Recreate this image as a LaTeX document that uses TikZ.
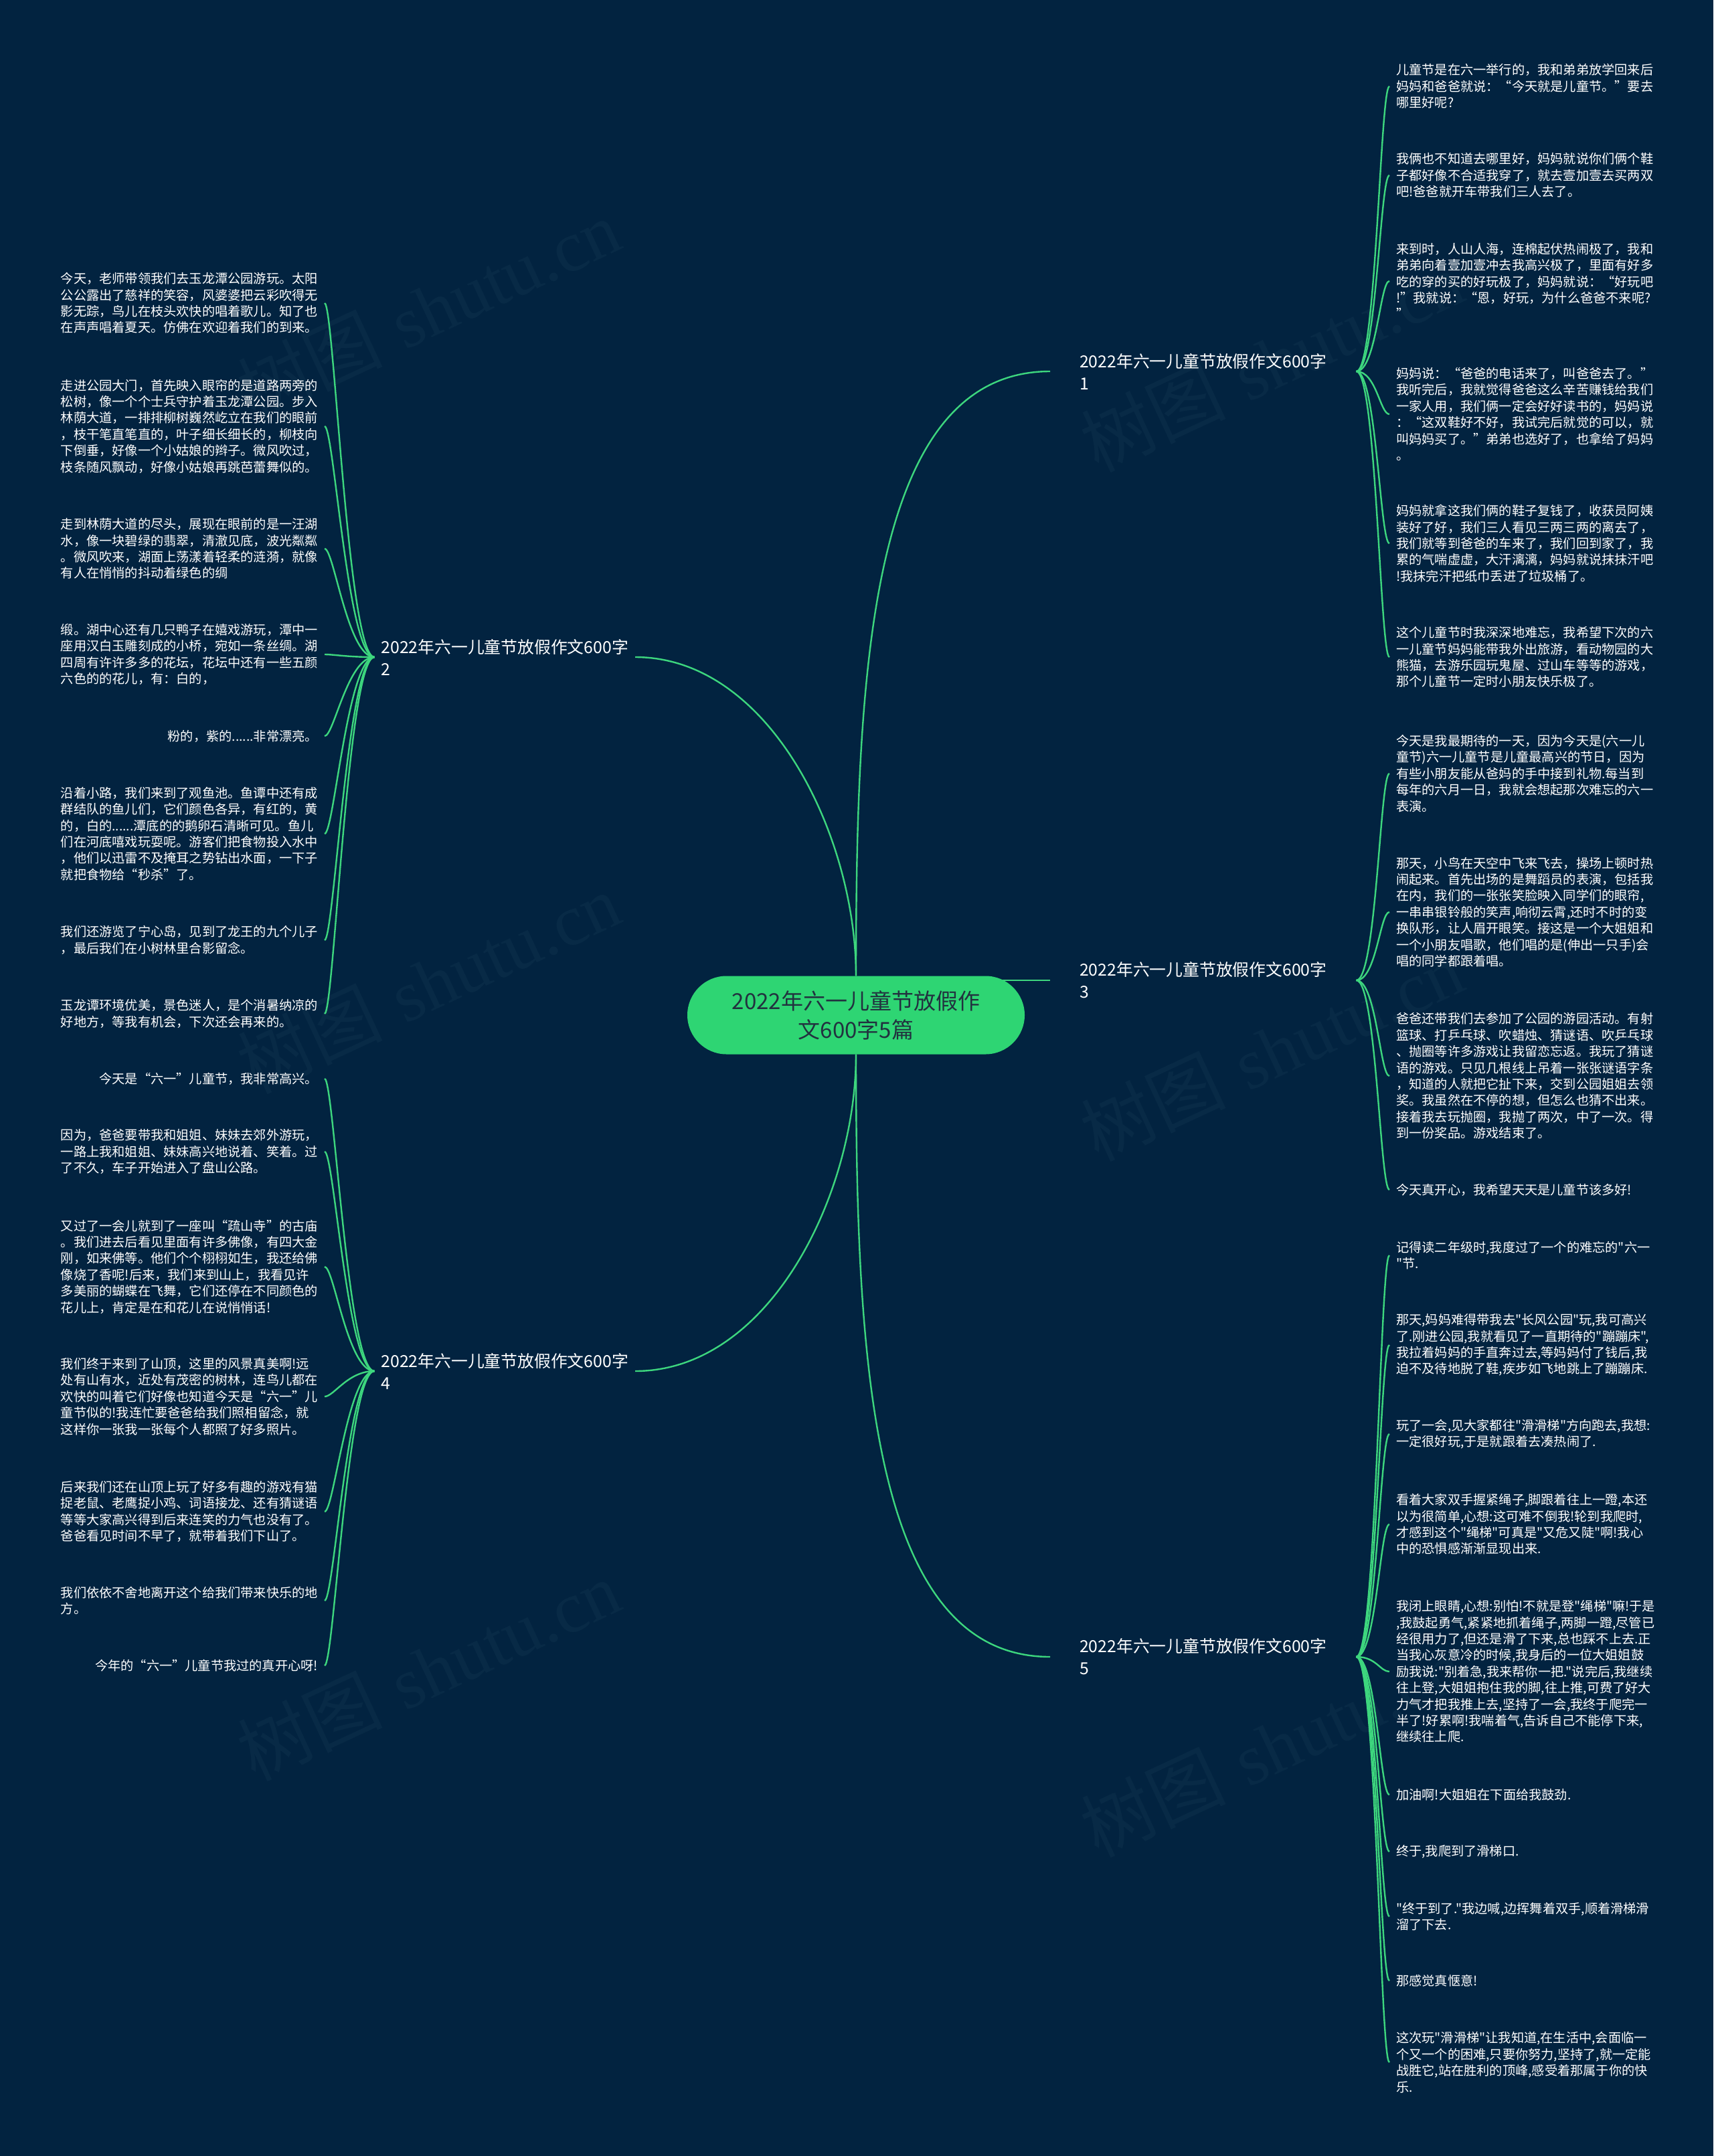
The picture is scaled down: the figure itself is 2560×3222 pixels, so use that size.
\documentclass[tikz,border=0pt]{standalone}
\usepackage{fontspec}
\newfontfamily\cjk[Ligatures=TeXOff]{Noto Sans CJK SC}
\newfontfamily\wmserif{Liberation Serif}
\usetikzlibrary{shapes.misc}
\definecolor{bgc}{HTML}{022340}
\definecolor{lnc}{HTML}{3DD67E}
\definecolor{rootc}{HTML}{2ED573}
\definecolor{roottxt}{HTML}{22313F}
\definecolor{wmc}{HTML}{082A46}
\pgfdeclarelayer{bglayer}
\pgfdeclarelayer{edgelayer}
\pgfsetlayers{bglayer,edgelayer,main}
\begin{document}
\begin{tikzpicture}[x=1pt,y=-1pt,
  leaf/.style={font=\fontsize{19.2}{24.4}\selectfont\cjk, text=white, align=left, inner xsep=10pt, inner ysep=0pt},
  leafR/.style={leaf, anchor=west},
  leafL/.style={leaf, anchor=east},
  branch/.style={font=\fontsize{24.8}{33}\selectfont\cjk, text=white, align=left, inner ysep=2pt},
  branchR/.style={branch, anchor=west, inner xsep=44pt},
  branchL/.style={branch, anchor=east, inner xsep=10pt},
  rootnode/.style={rounded rectangle, fill=rootc, text=roottxt, minimum width=504pt, minimum height=117pt, font=\fontsize{33}{43}\selectfont\cjk, align=center, inner sep=0pt},
  link/.style={draw=lnc, line width=2.4pt},
  wm/.style={text=wmc, rotate=25, font=\fontsize{108}{108}\selectfont}
]
\useasboundingbox (0,0) rectangle (2560,3222);
\begin{pgfonlayer}{bglayer}
\fill[bgc] (0,0) rectangle (2560,3222);
\node[wm] (w1) at (640,462) {{\cjk 树图} {\wmserif shutu.cn}};
\node[wm] (w2) at (640,1469) {{\cjk 树图} {\wmserif shutu.cn}};
\node[wm] (w3) at (640,2496) {{\cjk 树图} {\wmserif shutu.cn}};
\node[wm] (w4) at (1900,540) {{\cjk 树图} {\wmserif shutu.cn}};
\node[wm] (w5) at (1900,1570) {{\cjk 树图} {\wmserif shutu.cn}};
\node[wm] (w6) at (1900,2610) {{\cjk 树图} {\wmserif shutu.cn}};
\end{pgfonlayer}

% root
\node[rootnode] (root) at (1279,1517) {2022年六一儿童节放假作\\文600字5篇};

% branches
\node[branchR] (b1) at (1569,555) {2022年六一儿童节放假作文600字\\1};
\node[branchL] (b2) at (949,982) {2022年六一儿童节放假作文600字\\2};
\node[branchR] (b3) at (1569,1465) {2022年六一儿童节放假作文600字\\3};
\node[branchL] (b4) at (949,2049) {2022年六一儿童节放假作文600字\\4};
\node[branchR] (b5) at (1569,2476) {2022年六一儿童节放假作文600字\\5};

% branch 1 leaves
\node[leafR] (c1a) at (2076,129) {儿童节是在六一举行的，我和弟弟放学回来后\\妈妈和爸爸就说：“今天就是儿童节。”要去\\哪里好呢?};
\node[leafR] (c1b) at (2076,262) {我俩也不知道去哪里好，妈妈就说你们俩个鞋\\子都好像不合适我穿了，就去壹加壹去买两双\\吧!爸爸就开车带我们三人去了。};
\node[leafR] (c1c) at (2076,420) {来到时，人山人海，连棉起伏热闹极了，我和\\弟弟向着壹加壹冲去我高兴极了，里面有好多\\吃的穿的买的好玩极了，妈妈就说：“好玩吧\\!”我就说：“恩，好玩，为什么爸爸不来呢?\\”};
\node[leafR] (c1d) at (2076,619) {妈妈说：“爸爸的电话来了，叫爸爸去了。”\\我听完后，我就觉得爸爸这么辛苦赚钱给我们\\一家人用，我们俩一定会好好读书的，妈妈说\\：“这双鞋好不好，我试完后就觉的可以，就\\叫妈妈买了。”弟弟也选好了，也拿给了妈妈\\。};
\node[leafR] (c1e) at (2076,812) {妈妈就拿这我们俩的鞋子复钱了，收获员阿姨\\装好了好，我们三人看见三两三两的离去了，\\我们就等到爸爸的车来了，我们回到家了，我\\累的气喘虚虚，大汗漓漓，妈妈就说抹抹汗吧\\!我抹完汗把纸巾丢进了垃圾桶了。};
\node[leafR] (c1f) at (2076,982) {这个儿童节时我深深地难忘，我希望下次的六\\一儿童节妈妈能带我外出旅游，看动物园的大\\熊猫，去游乐园玩鬼屋、过山车等等的游戏，\\那个儿童节一定时小朋友快乐极了。};

% branch 3 leaves
\node[leafR] (c3a) at (2076,1156) {今天是我最期待的一天，因为今天是(六一儿\\童节)六一儿童节是儿童最高兴的节日，因为\\有些小朋友能从爸妈的手中接到礼物.每当到\\每年的六月一日，我就会想起那次难忘的六一\\表演。};
\node[leafR] (c3b) at (2076,1363) {那天，小鸟在天空中飞来飞去，操场上顿时热\\闹起来。首先出场的是舞蹈员的表演，包括我\\在内，我们的一张张笑脸映入同学们的眼帘,\\一串串银铃般的笑声,响彻云霄,还时不时的变\\换队形，让人眉开眼笑。接这是一个大姐姐和\\一个小朋友唱歌，他们唱的是(伸出一只手)会\\唱的同学都跟着唱。};
\node[leafR] (c3c) at (2076,1608) {爸爸还带我们去参加了公园的游园活动。有射\\篮球、打乒乓球、吹蜡烛、猜谜语、吹乒乓球\\、抛圈等许多游戏让我留恋忘返。我玩了猜谜\\语的游戏。只见几根线上吊着一张张谜语字条\\，知道的人就把它扯下来，交到公园姐姐去领\\奖。我虽然在不停的想，但怎么也猜不出来。\\接着我去玩抛圈，我抛了两次，中了一次。得\\到一份奖品。游戏结束了。};
\node[leafR] (c3d) at (2076,1778) {今天真开心，我希望天天是儿童节该多好!};

% branch 5 leaves
\node[leafR] (c5a) at (2076,1876) {记得读二年级时,我度过了一个的难忘的"六一\\"节.};
\node[leafR] (c5b) at (2076,2010) {那天,妈妈难得带我去"长风公园"玩,我可高兴\\了.刚进公园,我就看见了一直期待的"蹦蹦床",\\我拉着妈妈的手直奔过去,等妈妈付了钱后,我\\迫不及待地脱了鞋,疾步如飞地跳上了蹦蹦床.};
\node[leafR] (c5c) at (2076,2143) {玩了一会,见大家都往"滑滑梯"方向跑去,我想:\\一定很好玩,于是就跟着去凑热闹了.};
\node[leafR] (c5d) at (2076,2278) {看着大家双手握紧绳子,脚跟着往上一蹬,本还\\以为很简单,心想:这可难不倒我!轮到我爬时,\\才感到这个"绳梯"可真是"又危又陡"啊!我心\\中的恐惧感渐渐显现出来.};
\node[leafR] (c5e) at (2076,2498) {我闭上眼睛,心想:别怕!不就是登"绳梯"嘛!于是\\,我鼓起勇气,紧紧地抓着绳子,两脚一蹬,尽管已\\经很用力了,但还是滑了下来,总也踩不上去.正\\当我心灰意冷的时候,我身后的一位大姐姐鼓\\励我说:"别着急,我来帮你一把."说完后,我继续\\往上登,大姐姐抱住我的脚,往上推,可费了好大\\力气才把我推上去,坚持了一会,我终于爬完一\\半了!好累啊!我喘着气,告诉自己不能停下来,\\继续往上爬.};
\node[leafR] (c5f) at (2076,2682) {加油啊!大姐姐在下面给我鼓劲.};
\node[leafR] (c5g) at (2076,2767) {终于,我爬到了滑梯口.};
\node[leafR] (c5h) at (2076,2864) {"终于到了."我边喊,边挥舞着双手,顺着滑梯滑\\溜了下去.};
\node[leafR] (c5i) at (2076,2960) {那感觉真惬意!};
\node[leafR] (c5j) at (2076,3082) {这次玩"滑滑梯"让我知道,在生活中,会面临一\\个又一个的困难,只要你努力,坚持了,就一定能\\战胜它,站在胜利的顶峰,感受着那属于你的快\\乐.};

% branch 2 leaves
\node[leafL] (c2a) at (485,453) {今天，老师带领我们去玉龙潭公园游玩。太阳\\公公露出了慈祥的笑容，风婆婆把云彩吹得无\\影无踪，鸟儿在枝头欢快的唱着歌儿。知了也\\在声声唱着夏天。仿佛在欢迎着我们的到来。};
\node[leafL] (c2b) at (485,637) {走进公园大门，首先映入眼帘的是道路两旁的\\松树，像一个个士兵守护着玉龙潭公园。步入\\林荫大道，一排排柳树巍然屹立在我们的眼前\\，枝干笔直笔直的，叶子细长细长的，柳枝向\\下倒垂，好像一个小姑娘的辫子。微风吹过，\\枝条随风飘动，好像小姑娘再跳芭蕾舞似的。};
\node[leafL] (c2c) at (485,820) {走到林荫大道的尽头，展现在眼前的是一汪湖\\水，像一块碧绿的翡翠，清澈见底，波光粼粼\\。微风吹来，湖面上荡漾着轻柔的涟漪，就像\\有人在悄悄的抖动着绿色的绸};
\node[leafL] (c2d) at (485,978) {缎。湖中心还有几只鸭子在嬉戏游玩，潭中一\\座用汉白玉雕刻成的小桥，宛如一条丝绸。湖\\四周有许许多多的花坛，花坛中还有一些五颜\\六色的的花儿，有：白的，};
\node[leafL] (c2e) at (485,1100) {粉的，紫的......非常漂亮。};
\node[leafL] (c2f) at (485,1246) {沿着小路，我们来到了观鱼池。鱼谭中还有成\\群结队的鱼儿们，它们颜色各异，有红的，黄\\的，白的......潭底的的鹅卵石清晰可见。鱼儿\\们在河底嘻戏玩耍呢。游客们把食物投入水中\\，他们以迅雷不及掩耳之势钻出水面，一下子\\就把食物给“秒杀”了。};
\node[leafL] (c2g) at (485,1405) {我们还游览了宁心岛，见到了龙王的九个儿子\\，最后我们在小树林里合影留念。};
\node[leafL] (c2h) at (485,1515) {玉龙谭环境优美，景色迷人，是个消暑纳凉的\\好地方，等我有机会，下次还会再来的。};

% branch 4 leaves
\node[leafL] (c4a) at (485,1612) {今天是“六一”儿童节，我非常高兴。};
\node[leafL] (c4b) at (485,1721) {因为，爸爸要带我和姐姐、妹妹去郊外游玩，\\一路上我和姐姐、妹妹高兴地说着、笑着。过\\了不久，车子开始进入了盘山公路。};
\node[leafL] (c4c) at (485,1893) {又过了一会儿就到了一座叫“疏山寺”的古庙\\。我们进去后看见里面有许多佛像，有四大金\\刚，如来佛等。他们个个栩栩如生，我还给佛\\像烧了香呢!后来，我们来到山上，我看见许\\多美丽的蝴蝶在飞舞，它们还停在不同颜色的\\花儿上，肯定是在和花儿在说悄悄话!};
\node[leafL] (c4d) at (485,2087) {我们终于来到了山顶，这里的风景真美啊!远\\处有山有水，近处有茂密的树林，连鸟儿都在\\欢快的叫着它们好像也知道今天是“六一”儿\\童节似的!我连忙要爸爸给我们照相留念，就\\这样你一张我一张每个人都照了好多照片。};
\node[leafL] (c4e) at (485,2259) {后来我们还在山顶上玩了好多有趣的游戏有猫\\捉老鼠、老鹰捉小鸡、词语接龙、还有猜谜语\\等等大家高兴得到后来连笑的力气也没有了。\\爸爸看见时间不早了，就带着我们下山了。};
\node[leafL] (c4f) at (485,2392) {我们依依不舍地离开这个给我们带来快乐的地\\方。};
\node[leafL] (c4g) at (485,2489) {今年的“六一”儿童节我过的真开心呀!};

\begin{pgfonlayer}{edgelayer}
% root to branches
\draw[link] (root.north) .. controls (1279,1000) and (1300,555) .. (b1.west);
\draw[link] (root.north) .. controls (1279,1250) and (1150,982) .. (b2.east);
\draw[link] (b3.west -| root.center) -- (b3.west);
\draw[link] (root.south) .. controls (1279,1784) and (1150,2049) .. (b4.east);
\draw[link] (root.south) .. controls (1279,2030) and (1300,2476) .. (b5.west);
% right brackets
\foreach \c in {c1a,c1b,c1c,c1d,c1e,c1f}
  \draw[link] (b1.east) .. controls +(30,0) and +(-14,0) .. (\c.west);
\foreach \c in {c3a,c3b,c3c,c3d}
  \draw[link] (b3.east) .. controls +(30,0) and +(-14,0) .. (\c.west);
\foreach \c in {c5a,c5b,c5c,c5d,c5e,c5f,c5g,c5h,c5i,c5j}
  \draw[link] (b5.east) .. controls +(30,0) and +(-14,0) .. (\c.west);
% left brackets
\foreach \c in {c2a,c2b,c2c,c2d,c2e,c2f,c2g,c2h}
  \draw[link] (b2.west) .. controls +(-40,0) and +(14,0) .. (\c.east);
\foreach \c in {c4a,c4b,c4c,c4d,c4e,c4f,c4g}
  \draw[link] (b4.west) .. controls +(-40,0) and +(14,0) .. (\c.east);
\end{pgfonlayer}
\end{tikzpicture}
\end{document}
